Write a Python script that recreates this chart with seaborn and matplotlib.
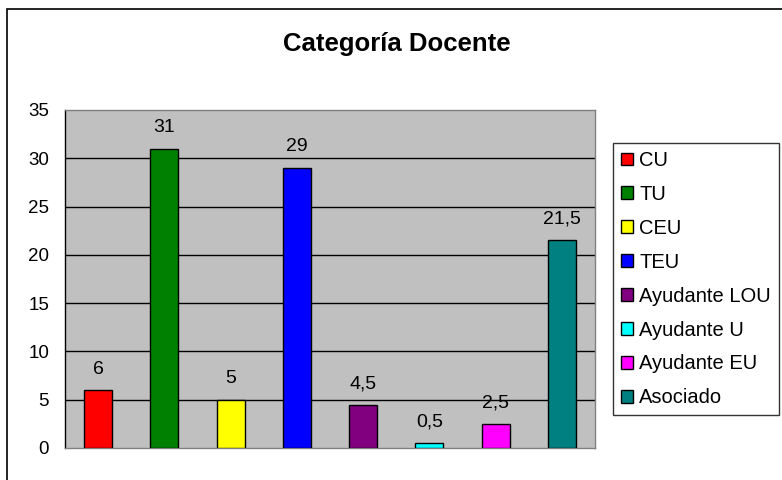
import matplotlib
matplotlib.use("Agg")
import matplotlib.pyplot as plt
import seaborn as sns
import pandas as pd
from matplotlib.patches import Patch, Rectangle

categories = ["CU", "TU", "CEU", "TEU", "Ayudante LOU", "Ayudante U", "Ayudante EU", "Asociado"]
values = [6, 31, 5, 29, 4.5, 0.5, 2.5, 21.5]
value_labels = ["6", "31", "5", "29", "4,5", "0,5", "2,5", "21,5"]
colors = ["#FF0000", "#008000", "#FFFF00", "#0000FF", "#800080", "#00FFFF", "#FF00FF", "#008080"]
yticks = [0, 5, 10, 15, 20, 25, 30, 35]
title = "Categoría Docente"

sns.set_style("white")
plt.rcParams["font.family"] = ["Liberation Sans", "DejaVu Sans"]
plt.rcParams["text.color"] = "black"
plt.rcParams["ytick.color"] = "black"
plt.rcParams["ytick.labelcolor"] = "black"

W, H = 782, 480
fig = plt.figure(figsize=(W / 100, H / 100), dpi=100)
fig.patch.set_facecolor("white")

# outer chart frame
fig.add_artist(Rectangle((7 / W, 1 - 530 / H), 900 / W, 521 / H, transform=fig.transFigure,
                         fill=False, edgecolor="black", linewidth=1.2))

ax = fig.add_axes([65 / W, (H - 448) / H, 530 / W, 338 / H])
df = pd.DataFrame({"cat": categories, "val": values})
sns.barplot(data=df, x="cat", y="val", hue="cat", palette=colors, width=0.42, saturation=1,
            edgecolor="black", linewidth=1.0, dodge=False, legend=False, ax=ax, zorder=3)

ax.set_facecolor("#C0C0C0")
ax.set_xlim(-0.5, len(categories) - 0.5)
ax.set_ylim(0, 35)
ax.set_yticks(yticks)
ax.set_yticklabels([str(t) for t in yticks], fontsize=13.5)
ax.tick_params(axis="y", length=5, width=1, color="black", direction="out", pad=6.5, labelcolor="black")
ax.tick_params(axis="x", length=0, labelbottom=False)
ax.set_xlabel("")
ax.set_ylabel("")
for y in yticks[1:-1]:
    ax.axhline(y, color="black", linewidth=1.0, zorder=1)
for side in ["top", "right", "bottom"]:
    ax.spines[side].set_color("#808080")
    ax.spines[side].set_linewidth(1.0)
ax.spines["left"].set_color("black")
ax.spines["left"].set_linewidth(1.0)

for cont, lab in zip(ax.containers, value_labels):
    ax.bar_label(cont, labels=[lab], padding=9, fontsize=14, color="black")

fig.text(397 / W, 1 - 44 / H, title, ha="center", va="center", fontsize=18.5, fontweight="bold",
         color="black")

handles = [Patch(facecolor=c, edgecolor="black", linewidth=1.0, label=l) for c, l in zip(colors, categories)]
leg = fig.legend(handles=handles, loc="upper left", bbox_to_anchor=(613 / W, 1 - 143 / H),
                 bbox_transform=fig.transFigure, borderaxespad=0, fontsize=14.5,
                 handlelength=0.6, handleheight=0.6, handletextpad=0.3,
                 labelspacing=0.74, borderpad=0.4, fancybox=False, frameon=True)
leg.get_frame().set_edgecolor("black")
leg.get_frame().set_linewidth(1.0)
for t in leg.get_texts():
    t.set_color("black")

fig.savefig("out.png", dpi=100)
